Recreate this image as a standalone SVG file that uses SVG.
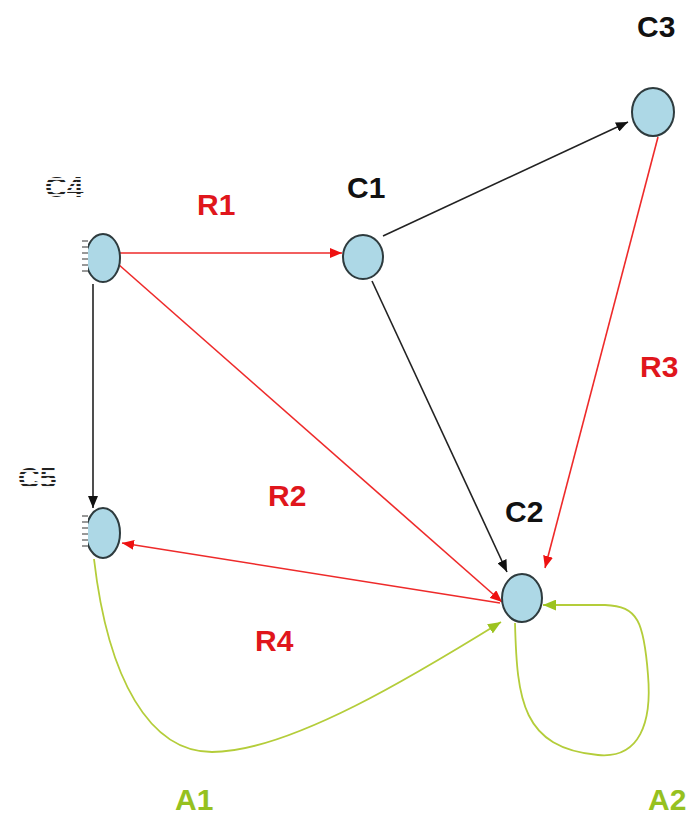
<svg xmlns="http://www.w3.org/2000/svg" width="694" height="817" viewBox="0 0 694 817">
  <style>
    .node { fill: #add8e6; stroke: #2e3b3e; stroke-width: 2; }
    .lbl { font-family: "Liberation Sans", Arial, sans-serif; font-weight: bold; font-size: 30px; }
    .black { fill: #111; }
    .red { fill: #e0161c; }
    .green { fill: #96c11f; }
    .faint { fill: url(#scan); }
    .e-black { stroke: #222; stroke-width: 1.6; fill: none; marker-end: url(#ahBlack); }
    .e-red { stroke: #ee2a2a; stroke-width: 1.6; fill: none; marker-end: url(#ahRed); }
    .e-green { stroke: #b4cd3a; stroke-width: 1.8; fill: none; marker-end: url(#ahGreen); }
    .tick { stroke: #333; stroke-width: 1; }
  </style>
  <defs>
    <marker id="ahBlack" viewBox="0 0 12 10" refX="12" refY="5" markerWidth="12" markerHeight="10" markerUnits="userSpaceOnUse" orient="auto">
      <path d="M0,0 L12,5 L0,10 z" fill="#111"/>
    </marker>
    <marker id="ahRed" viewBox="0 0 12 10" refX="12" refY="5" markerWidth="12" markerHeight="10" markerUnits="userSpaceOnUse" orient="auto">
      <path d="M0,0 L12,5 L0,10 z" fill="#ee1111"/>
    </marker>
    <marker id="ahGreen" viewBox="0 0 12 10" refX="12" refY="5" markerWidth="13" markerHeight="11" markerUnits="userSpaceOnUse" orient="auto">
      <path d="M0,0 L12,5 L0,10 z" fill="#9cc320"/>
    </marker>
    <pattern id="scan" width="4" height="4" patternUnits="userSpaceOnUse">
      <rect width="4" height="2" fill="#222"/>
      <rect y="2" width="4" height="2" fill="#f4f4f4"/>
    </pattern>
    <clipPath id="cutLeft">
      <rect x="88" y="0" width="100" height="817"/>
    </clipPath>
  </defs>

  <rect width="694" height="817" fill="#ffffff"/>

  <!-- connectors -->
  <g id="edges">
    <line class="e-red" x1="120" y1="253" x2="342" y2="253"/>
    <line class="e-red" x1="118" y1="264" x2="502" y2="602"/>
    <line class="e-black" x1="93" y1="284" x2="93" y2="508"/>
    <line class="e-black" x1="383" y1="236" x2="628" y2="122"/>
    <line class="e-black" x1="372" y1="281" x2="507" y2="572"/>
    <line class="e-red" x1="658" y1="137" x2="545" y2="568"/>
    <line class="e-red" x1="500" y1="603" x2="122" y2="543"/>
    <path class="e-green" d="M94,559 C108,680 150,752 212,752 C290,752 420,672 501,622"/>
    <path class="e-green" d="M515,623 C517,700 522,748 598,755 C640,759 652,722 648,675 C644,622 638,606 605,605 L543,605"/>
  </g>

  <!-- nodes -->
  <g id="C4">
    <ellipse class="node" cx="103" cy="258" rx="17" ry="24" clip-path="url(#cutLeft)"/>
    <g class="tick">
      <line x1="82" y1="241" x2="88" y2="241"/><line x1="82" y1="247" x2="88" y2="247"/>
      <line x1="82" y1="253" x2="88" y2="253"/><line x1="82" y1="259" x2="88" y2="259"/>
      <line x1="82" y1="265" x2="88" y2="265"/><line x1="82" y1="271" x2="88" y2="271"/>
    </g>
    <text class="lbl faint" x="45" y="197" font-size="28">C4</text>
  </g>
  <g id="C5">
    <ellipse class="node" cx="103" cy="533" rx="17" ry="25" clip-path="url(#cutLeft)"/>
    <g class="tick">
      <line x1="82" y1="516" x2="88" y2="516"/><line x1="82" y1="522" x2="88" y2="522"/>
      <line x1="82" y1="528" x2="88" y2="528"/><line x1="82" y1="534" x2="88" y2="534"/>
      <line x1="82" y1="540" x2="88" y2="540"/><line x1="82" y1="546" x2="88" y2="546"/>
    </g>
    <text class="lbl faint" x="18" y="488" font-size="28">C5</text>
  </g>
  <g id="C1">
    <ellipse class="node" cx="363" cy="257" rx="20" ry="22"/>
    <text class="lbl black" x="347" y="198">C1</text>
  </g>
  <g id="C3">
    <ellipse class="node" cx="653" cy="112" rx="21" ry="24"/>
    <text class="lbl black" x="637" y="37">C3</text>
  </g>
  <g id="C2">
    <ellipse class="node" cx="522" cy="598" rx="20" ry="24"/>
    <text class="lbl black" x="505" y="522">C2</text>
  </g>

  <!-- edge labels -->
  <g id="labels">
    <text class="lbl red" x="197" y="215">R1</text>
    <text class="lbl red" x="268" y="506">R2</text>
    <text class="lbl red" x="640" y="377">R3</text>
    <text class="lbl red" x="255" y="651">R4</text>
    <text class="lbl green" x="175" y="810">A1</text>
    <text class="lbl green" x="648" y="810">A2</text>
  </g>
</svg>
